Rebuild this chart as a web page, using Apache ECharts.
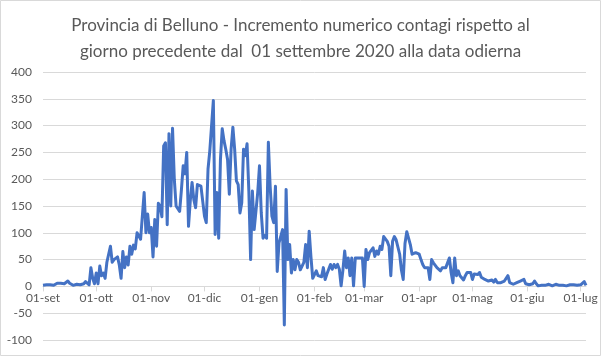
<!DOCTYPE html>
<html>
<head>
<meta charset="utf-8">
<script src="https://cdn.jsdelivr.net/npm/echarts@6/dist/echarts.min.js"></script>
<style>
html,body{margin:0;padding:0;background:#fff;}
#chart{width:601px;height:356px;}
</style>
</head>
<body>
<div id="chart"></div>
<script>
// Month names (Italian) and number of days plotted in each month
var monthNames = ['set','ott','nov','dic','gen','feb','mar','apr','mag','giu','lug'];

// Daily increments, one array per month (Sep 2020 - Jul 2021)
var sep20 = [2,0,3,2,3,1,2,4,6,5,6,4,5,3,10,6,3,2,1,4,7,3,6,5,9,11,3,35,15,5];
var oct20 = [25,5,38,20,25,15,45,48,75,45,50,52,55,40,15,65,35,55,40,75,60,77,70,100,103,88,85,175,100,135,100];
var nov20 = [110,55,125,75,155,150,130,262,268,115,285,150,295,200,150,145,140,180,225,210,250,112,160,194,162,147,190,187,187,190];
var dec20 = [131,119,219,253,256,347,97,175,90,237,294,272,256,237,172,256,297,256,197,190,137,156,256,244,266,178,50,178,106,103,175];
var jan21 = [225,137,90,95,90,269,187,131,119,187,28,81,78,106,-72,181,50,78,25,50,31,50,45,31,31,45,78,35,103,55,15];
var feb21 = [15,29,20,23,18,35,13,23,32,41,32,41,35,41,32,1,30,66,35,53,20,53,1,53,50,53,50,53];
var mar21 = [0,69,50,63,66,72,56,66,60,75,69,93,90,84,75,20,84,93,87,90,60,30,13,80,102,90,78,60,60,63,66];
var apr21 = [60,50,41,35,32,35,13,50,44,47,35,38,29,35,38,35,32,53,26,7,53,20,29,20,17,12,20,26,23,26];
var may21 = [13,23,20,22,26,17,20,13,15,10,13,12,8,13,7,9,7,7,10,7,20,7,10,4,1,7,5,10,8,13,5];
var jun21 = [2,3,1,5,10,5,1,4,2,4,2,3,4,2,1,2,4,7,2,3,2,3,1,2,3,2,3,2,2,1];
var jul21 = [3,4,9,2];

var monthData = [sep20,oct20,nov20,dec20,jan21,feb21,mar21,apr21,may21,jun21,jul21];

// Y axis ticks
var yMin = -100, yMax = 400, yStep = 50;

var titleText = 'Provincia di Belluno - Incremento numerico contagi rispetto al\ngiorno precedente dal  01 settembre 2020 alla data odierna';

var categories = [];
var values = [];
monthData.forEach(function(arr, m){
  arr.forEach(function(v, i){
    var dd = (i + 1 < 10 ? '0' : '') + (i + 1);
    categories.push(dd + '-' + monthNames[m]);
    values.push(v);
  });
});

function isFirst(idx, val){ return String(val).indexOf('01-') === 0; }

var gridTop = 72, gridBottom = 16, chartH = 356;
var plotH = chartH - gridTop - gridBottom;
// distance from bottom of plot to the zero line
var zeroOffset = plotH * (0 - yMin) / (yMax - yMin);

var chart = echarts.init(document.getElementById('chart'), null, {renderer:'canvas'});
chart.setOption({
  animation: false,
  backgroundColor: '#ffffff',
  textStyle: {fontFamily: 'Lato'},
  title: {
    text: titleText,
    left: 'center',
    top: 8,
    textStyle: {fontFamily: 'Lato', fontSize: 17, fontWeight: 'normal', color: '#595959', lineHeight: 26}
  },
  graphic: [{
    type: 'rect', shape: {x: 0.5, y: 0.5, width: 600, height: 355},
    style: {fill: 'none', stroke: '#d9d9d9', lineWidth: 1}, silent: true
  }],
  grid: {left: 43, right: 15, top: gridTop, bottom: gridBottom, containLabel: false},
  xAxis: {
    type: 'category',
    data: categories,
    boundaryGap: false,
    position: 'bottom',
    offset: -zeroOffset,
    axisLine: {onZero: false, lineStyle: {color: '#d9d9d9', width: 1}},
    axisTick: {show: true, interval: isFirst, length: 5, lineStyle: {color: '#d9d9d9'}},
    axisLabel: {interval: isFirst, color: '#595959', fontSize: 12, margin: 6, fontFamily: 'Lato'},
    splitLine: {show: false}
  },
  yAxis: {
    type: 'value',
    min: yMin, max: yMax, interval: yStep,
    axisLine: {show: false},
    axisTick: {show: false},
    axisLabel: {color: '#595959', fontSize: 12, margin: 11, fontFamily: 'Lato'},
    splitLine: {lineStyle: {color: '#d9d9d9', width: 1}}
  },
  series: [{
    type: 'line',
    data: values,
    showSymbol: false,
    symbol: 'none',
    smooth: false,
    z: 5,
    lineStyle: {color: '#4472C4', width: 3, join: 'round'},
    itemStyle: {color: '#4472C4'}
  }]
});
</script>
</body>
</html>
